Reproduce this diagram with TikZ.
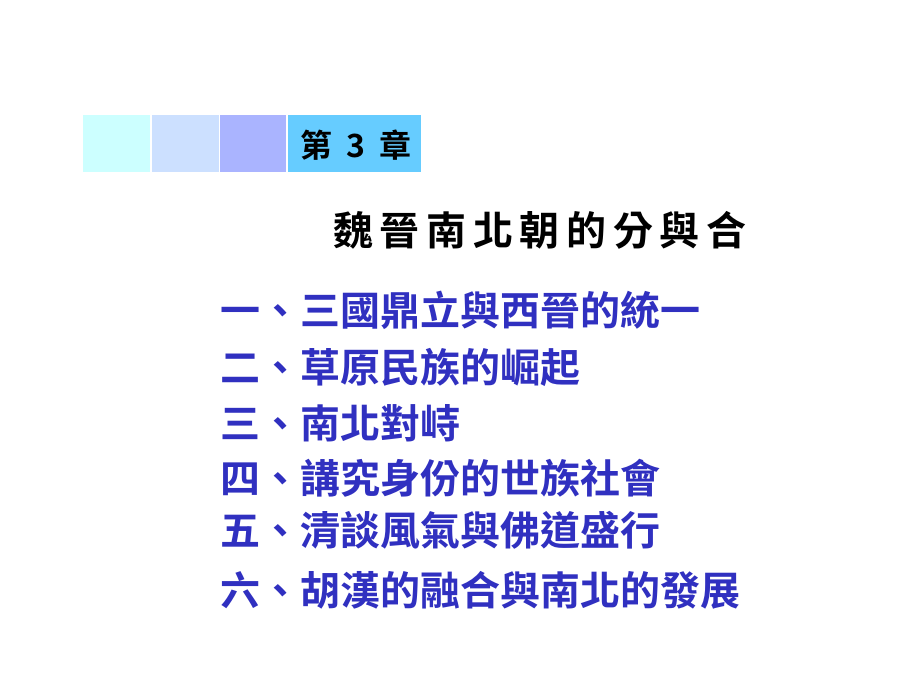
\documentclass[tikz,border=0pt]{standalone}
\usepackage{fontspec}
\newfontfamily\cjk{Noto Sans CJK TC}[BoldFont={* Bold}]
\begin{document}
\begin{tikzpicture}[x=1pt,y=-1pt,
  sq/.style={inner sep=0pt,minimum width=#1,minimum height=57pt,anchor=north west},
  item/.style={anchor=west,inner sep=0pt,font=\cjk\bfseries\fontsize{40}{44}\selectfont,text=itemblue}]
\definecolor{itemblue}{HTML}{3030C0}
\useasboundingbox (0,0) rectangle (920,690);
\fill[white] (0,0) rectangle (920,690);
\node[sq=67pt,fill={rgb,255:red,204;green,255;blue,255}] (b1) at (83,115) {};
\node[sq=67pt,fill={rgb,255:red,204;green,224;blue,255}] (b2) at (152,115) {};
\node[sq=66pt,fill={rgb,255:red,170;green,180;blue,255}] (b3) at (220,115) {};
\node[sq=133pt,fill={rgb,255:red,102;green,204;blue,255}] (b4) at (288,115) {};
\node[font=\cjk\bfseries\fontsize{32}{36}\selectfont] (ch) at (356,145) {第\hspace{14pt}3\hspace{14pt}章};
\node[anchor=west,inner sep=0pt,font=\cjk\bfseries\fontsize{40}{44}\selectfont] (title) at (333,230) {魏\,晉\,南\,北\,朝\,的\,分\,與\,合};
\foreach \t/\y [count=\i] in {一、三國鼎立與西晉的統一/310,二、草原民族的崛起/367,三、南北對峙/423,四、講究身份的世族社會/478,五、清談風氣與佛道盛行/530,六、胡漢的融合與南北的發展/590}{
  \node[item] (it\i) at (220,\y) {\t};
}
\end{tikzpicture}
\end{document}
